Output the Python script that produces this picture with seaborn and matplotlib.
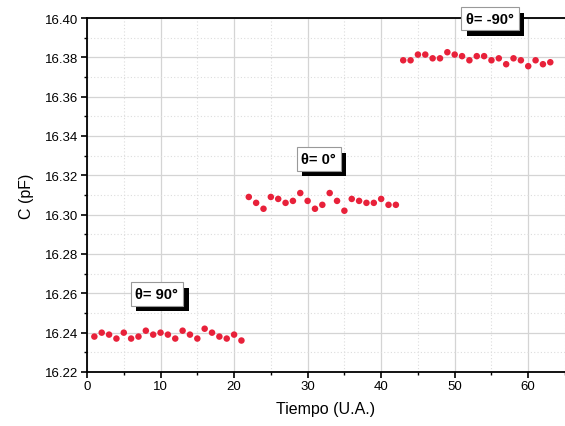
import matplotlib
matplotlib.use("Agg")
import matplotlib.pyplot as plt
import matplotlib.patheffects as pe
from matplotlib.ticker import MultipleLocator, FormatStrFormatter
import seaborn as sns
import pandas as pd
import numpy as np

t1 = list(range(1, 22))
c1 = [16.238, 16.240, 16.239, 16.237, 16.240, 16.237, 16.238, 16.241, 16.239, 16.240, 16.239,
      16.237, 16.241, 16.239, 16.237, 16.242, 16.240, 16.238, 16.237, 16.239, 16.236]
t2 = list(range(22, 43))
c2 = [16.309, 16.306, 16.303, 16.309, 16.308, 16.306, 16.307, 16.311, 16.307, 16.303, 16.305,
      16.311, 16.307, 16.302, 16.308, 16.307, 16.306, 16.306, 16.308, 16.305, 16.305]
t3 = list(range(43, 64))
c3 = [16.3785, 16.3785, 16.3814, 16.3814, 16.3795, 16.3795, 16.3826, 16.3814, 16.3806, 16.3785, 16.3806,
      16.3806, 16.3785, 16.3795, 16.3765, 16.3795, 16.3785, 16.3755, 16.3785, 16.3765, 16.3775]
labels = ["θ= 90°", "θ= 0°", "θ= -90°"]
label_pos = [(9.5, 16.2597), (31.5, 16.3283), (54.8, 16.3996)]

df = pd.DataFrame({
    "t": t1 + t2 + t3,
    "C": c1 + c2 + c3,
    "grupo": [labels[0]] * len(t1) + [labels[1]] * len(t2) + [labels[2]] * len(t3),
})

sns.set_style("white")
plt.rcParams["font.family"] = ["Liberation Sans", "DejaVu Sans"]
plt.rcParams["text.color"] = "black"
plt.rcParams["axes.labelcolor"] = "black"
plt.rcParams["xtick.color"] = "black"
plt.rcParams["ytick.color"] = "black"

fig = plt.figure(figsize=(5.65, 4.27), dpi=100)
ax = fig.add_axes([0.154, 0.1265, 0.846, 0.829])

red = "#e8213a"
sns.scatterplot(data=df, x="t", y="C", hue="grupo", palette=[red, red, red],
                s=22, edgecolor=red, linewidth=0, legend=False, ax=ax, zorder=3)

ax.set_xlim(0, 65)
ax.set_ylim(16.22, 16.40)
ax.xaxis.set_major_locator(MultipleLocator(10))
ax.xaxis.set_minor_locator(MultipleLocator(5))
ax.yaxis.set_major_locator(MultipleLocator(0.02))
ax.yaxis.set_minor_locator(MultipleLocator(0.01))
ax.yaxis.set_major_formatter(FormatStrFormatter("%.2f"))

ax.grid(True, which="major", color="#d4d4d4", linewidth=0.9, linestyle="-")
ax.grid(True, which="minor", color="#dddddd", linewidth=0.8, linestyle=(0, (1, 2)))
ax.set_axisbelow(True)

for s in ["left", "bottom", "top"]:
    ax.spines[s].set_visible(True)
    ax.spines[s].set_color("black")
    ax.spines[s].set_linewidth(1.3)
ax.spines["right"].set_visible(False)

ax.tick_params(which="major", direction="out", length=4, width=1.2, color="black",
               labelcolor="black", labelsize=9.5, left=True, bottom=True, pad=2)
ax.tick_params(which="minor", direction="out", length=2.5, width=1.0, color="black",
               left=True, bottom=True)

ax.set_xlabel("Tiempo (U.A.)", fontsize=11.5, labelpad=6, color="black")
ax.set_ylabel("C (pF)", fontsize=11.5, labelpad=8, color="black")

for lab, (x, y) in zip(labels, label_pos):
    txt = ax.text(x, y, lab, ha="center", va="center", fontsize=10.5, fontweight="bold",
                  color="black", zorder=5, clip_on=False,
                  bbox=dict(boxstyle="square,pad=0.32", facecolor="white", edgecolor="#999999",
                            linewidth=0.8))
    txt.get_bbox_patch().set_path_effects([
        pe.SimplePatchShadow(offset=(4, -4), shadow_rgbFace="black", alpha=1.0),
        pe.Normal()])

fig.savefig("out.png", dpi=100)
